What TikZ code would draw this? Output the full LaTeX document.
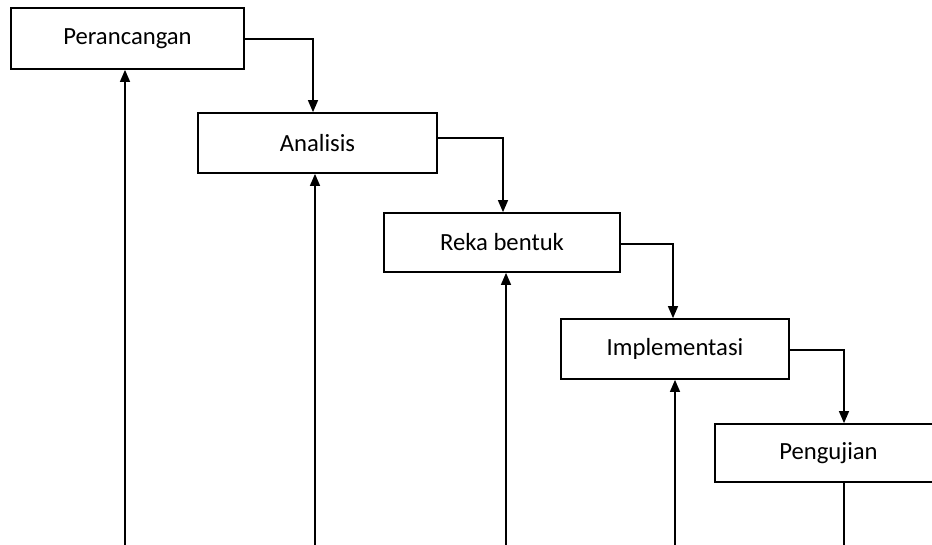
\documentclass[tikz,border=0pt]{standalone}
\usepackage{fontspec}
\setmainfont{Carlito}
\usetikzlibrary{arrows.meta}
\begin{document}
\begin{tikzpicture}[x=0.75pt,y=-0.75pt,
  stage/.style={draw=black,line width=1.3pt,fill=white,rectangle,inner sep=0pt,font=\fontsize{18.5}{20}\selectfont},
  flow/.style={line width=1pt,-{Triangle[length=9pt,width=7.5pt]}},
  plain/.style={line width=1pt}]
\useasboundingbox (0,0) rectangle (932,544);
\clip (0,0) rectangle (932,544);
\fill[white] (0,0) rectangle (932,544);
\node[stage,minimum width=174.75pt,minimum height=45.75pt] (p) at (127.5,38.5) {Perancangan};
\node[stage,minimum width=179.25pt,minimum height=45pt] (a) at (317.5,143) {Analisis};
\node[stage,minimum width=177pt,minimum height=44.25pt] (r) at (502,242.5) {Reka bentuk};
\node[stage,minimum width=171pt,minimum height=45pt] (i) at (675,349) {Implementasi};
\node[stage,minimum width=170.25pt,minimum height=43.5pt] (u) at (828.5,453) {Pengujian};
% forward flow
\draw[flow] (p.east |- 0,39) -| (a.north -| 313,0);
\draw[flow] (a.east |- 0,138) -| (r.north -| 503,0);
\draw[flow] (r.east |- 0,244) -| (i.north -| 673,0);
\draw[flow] (i.east |- 0,350) -| (u.north -| 844,0);
% feedback lines from the bottom
\coordinate (b1) at (125,548);
\coordinate (b2) at (315,548);
\coordinate (b3) at (506,548);
\coordinate (b4) at (675,548);
\coordinate (b5) at (844,548);
\draw[flow] (b1) -- (b1 |- p.south);
\draw[flow] (b2) -- (b2 |- a.south);
\draw[flow] (b3) -- (b3 |- r.south);
\draw[flow] (b4) -- (b4 |- i.south);
\draw[plain] (u.south -| b5) -- (b5);
\end{tikzpicture}
\end{document}
